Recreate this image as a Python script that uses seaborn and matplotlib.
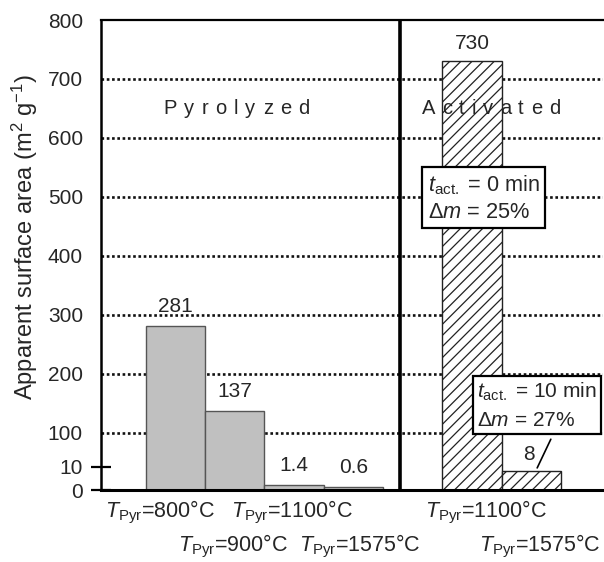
import numpy as np
import matplotlib
matplotlib.use("Agg")
import matplotlib.pyplot as plt
import matplotlib.transforms as mtransforms
from matplotlib.ticker import FixedLocator
from matplotlib.textpath import TextToPath
from matplotlib.font_manager import FontProperties
import seaborn as sns

# ---------------- data ----------------
pyro_temps = ["800", "900", "1100", "1575"]
pyro_area = [281, 137, 1.4, 0.6]
act_temps = ["1100", "1575"]
act_area = [730, 8]
y_ticks = [0, 10, 100, 200, 300, 400, 500, 600, 700, 800]
box_texts = [r"$t_{\mathrm{act.}}$ = 0 min" + "\n" + r"Δ$m$ = 25%",
             r"$t_{\mathrm{act.}}$ = 10 min" + "\n" + r"Δ$m$ = 27%"]
group_names = ["Pyrolyzed", "Activated"]
y_label = r"Apparent surface area (m$^2$ g$^{-1}$)"

# ---------------- style ----------------
sns.set_style("white")
plt.rcParams["font.family"] = ["Liberation Sans", "DejaVu Sans"]
plt.rcParams["mathtext.fontset"] = "custom"
plt.rcParams["mathtext.rm"] = "Liberation Sans"
plt.rcParams["mathtext.it"] = "Liberation Sans:italic"
plt.rcParams["mathtext.bf"] = "Liberation Sans:bold"
plt.rcParams["hatch.linewidth"] = 0.9
FS = 15

pyro_keys = ["P" + t for t in pyro_temps]
act_keys = ["A" + t for t in act_temps]
order = pyro_keys + ["gap"] + act_keys

fig = plt.figure(figsize=(6.04, 5.62), dpi=100)
ax = fig.add_axes([101 / 604, 1 - 490 / 562, (603 - 101) / 604, 470 / 562])


# piecewise y scale (expanded low end, as in the original figure)
def fwd(y):
    y = np.clip(np.asarray(y, dtype=float), 0, None)
    low = 23.0 * (np.minimum(y, 10) / 10.0) ** 0.75
    high = np.interp(y, [10, 100, 800], [23, 57, 469])
    high = np.where(y > 800, 469 + (y - 800) * 0.5886, high)
    return np.where(y <= 10, low, high)


def inv(u):
    u = np.clip(np.asarray(u, dtype=float), 0, None)
    low = 10.0 * (np.minimum(u, 23) / 23.0) ** (1 / 0.75)
    high = np.interp(u, [23, 57, 469], [10, 100, 800])
    high = np.where(u > 469, 800 + (u - 469) / 0.5886, high)
    return np.where(u <= 23, low, high)


ax.set_yscale("function", functions=(fwd, inv))

sns.barplot(x=pyro_keys, y=pyro_area, order=order, color="#c0c0c0",
            saturation=1, width=1, edgecolor="#555555", linewidth=1.0,
            ax=ax, zorder=2)
sns.barplot(x=act_keys, y=act_area, order=order, color="white",
            saturation=1, width=1, edgecolor="#222222", linewidth=1.0,
            hatch="///", ax=ax, zorder=2)

ax.set_ylim(0, 800)
ax.set_xlim(-1.256, 7.21)
ax.set_xlabel("")
ax.set_xticks([])

# y ticks
ax.set_yticks(y_ticks)
ax.set_yticklabels([str(v) for v in y_ticks], fontsize=FS)
ax.yaxis.set_minor_locator(FixedLocator(y_ticks[:2]))
ax.yaxis.remove_overlapping_locs = False
ax.tick_params(axis="y", which="major", length=0, pad=13, left=True)
ax.tick_params(axis="y", which="minor", length=15, width=1.6,
               direction="inout", left=True, color="black")
ax.set_ylabel(y_label, fontsize=17)
ax.yaxis.set_label_coords(-0.121, 0.538)

# dotted gridlines
for v in y_ticks:
    if 100 <= v < 800:
        ax.axhline(v, color="#111111", ls=(0, (1, 1)), lw=1.9, zorder=0.5)

# spines
for s in ["left", "bottom", "top"]:
    ax.spines[s].set_visible(True)
    ax.spines[s].set_color("black")
    ax.spines[s].set_zorder(4)
ax.spines["left"].set_linewidth(1.8)
ax.spines["bottom"].set_linewidth(2.2)
ax.spines["top"].set_linewidth(1.6)
ax.spines["right"].set_visible(False)

# separator between groups
ax.axvline(3.79, color="black", lw=2.6, zorder=4)

trans = mtransforms.blended_transform_factory(ax.transData, ax.transAxes)

# value labels
value_offsets = [(0, 14), (0, 14.4), (0, 14), (0, 14), (0, 12.5), (-2, 11.5)]
all_pos = [order.index(k) for k in pyro_keys + act_keys]
all_vals = pyro_area + act_area
for p, v, (dx, dy) in zip(all_pos, all_vals, value_offsets):
    ax.annotate(f"{v:g}", xy=(p, v), xytext=(dx, dy), textcoords="offset points",
                ha="center", va="center", fontsize=FS, zorder=6)


# group names with wide letter spacing
_ttp = TextToPath()


def spaced_text(x, y, s, size, gap):
    prop = FontProperties(family="Liberation Sans", size=size)
    widths = [_ttp.get_text_width_height_descent(c, prop, ismath=False)[0] for c in s]
    total = sum(widths) + gap * (len(s) - 1)
    cur = -total / 2
    for c, w in zip(s, widths):
        ax.annotate(c, xy=(x, y), xycoords=trans, xytext=(cur, 0),
                    textcoords="offset points", ha="left", va="baseline",
                    fontsize=size, zorder=6)
        cur += w + gap


spaced_text(1.03, 0.799, group_names[0], 14.5, 5.2)
spaced_text(5.32, 0.801, group_names[1], 14.5, 5.0)

# category labels (two staggered rows)
label_shift = [-0.26, -0.03, -0.04, 0.11, 0.24, 0.15]
row_y = [-0.047, -0.121]
all_temps = pyro_temps + act_temps
rows = [i % 2 for i in range(len(pyro_temps))] + [i % 2 for i in range(len(act_temps))]
for p, t, sh, r in zip(all_pos, all_temps, label_shift, rows):
    ax.text(p + sh, row_y[r], r"$T_{\mathrm{Pyr}}$=" + t + "°C", transform=trans,
            ha="center", va="center", fontsize=15.5, clip_on=False)

# annotation boxes
box_style = dict(boxstyle="square,pad=0.25", fc="white", ec="black", lw=1.6)
ax.text(4.255, 0.621, box_texts[0], transform=trans, ha="left", va="center",
        fontsize=15.7, linespacing=1.3, bbox=box_style, zorder=7)
box_style2 = dict(boxstyle="square,pad=0.2", fc="white", ec="black", lw=1.6)
ax.text(5.09, 0.18, box_texts[1], transform=trans, ha="left", va="center",
        fontsize=15.0, linespacing=1.5, bbox=box_style2, zorder=7)

# leader line from box to the small activated bar
ax.plot([6.10, 6.33], [0.047, 0.108], transform=trans, color="black", lw=1.2,
        zorder=6)

fig.savefig("out.png", dpi=100)
